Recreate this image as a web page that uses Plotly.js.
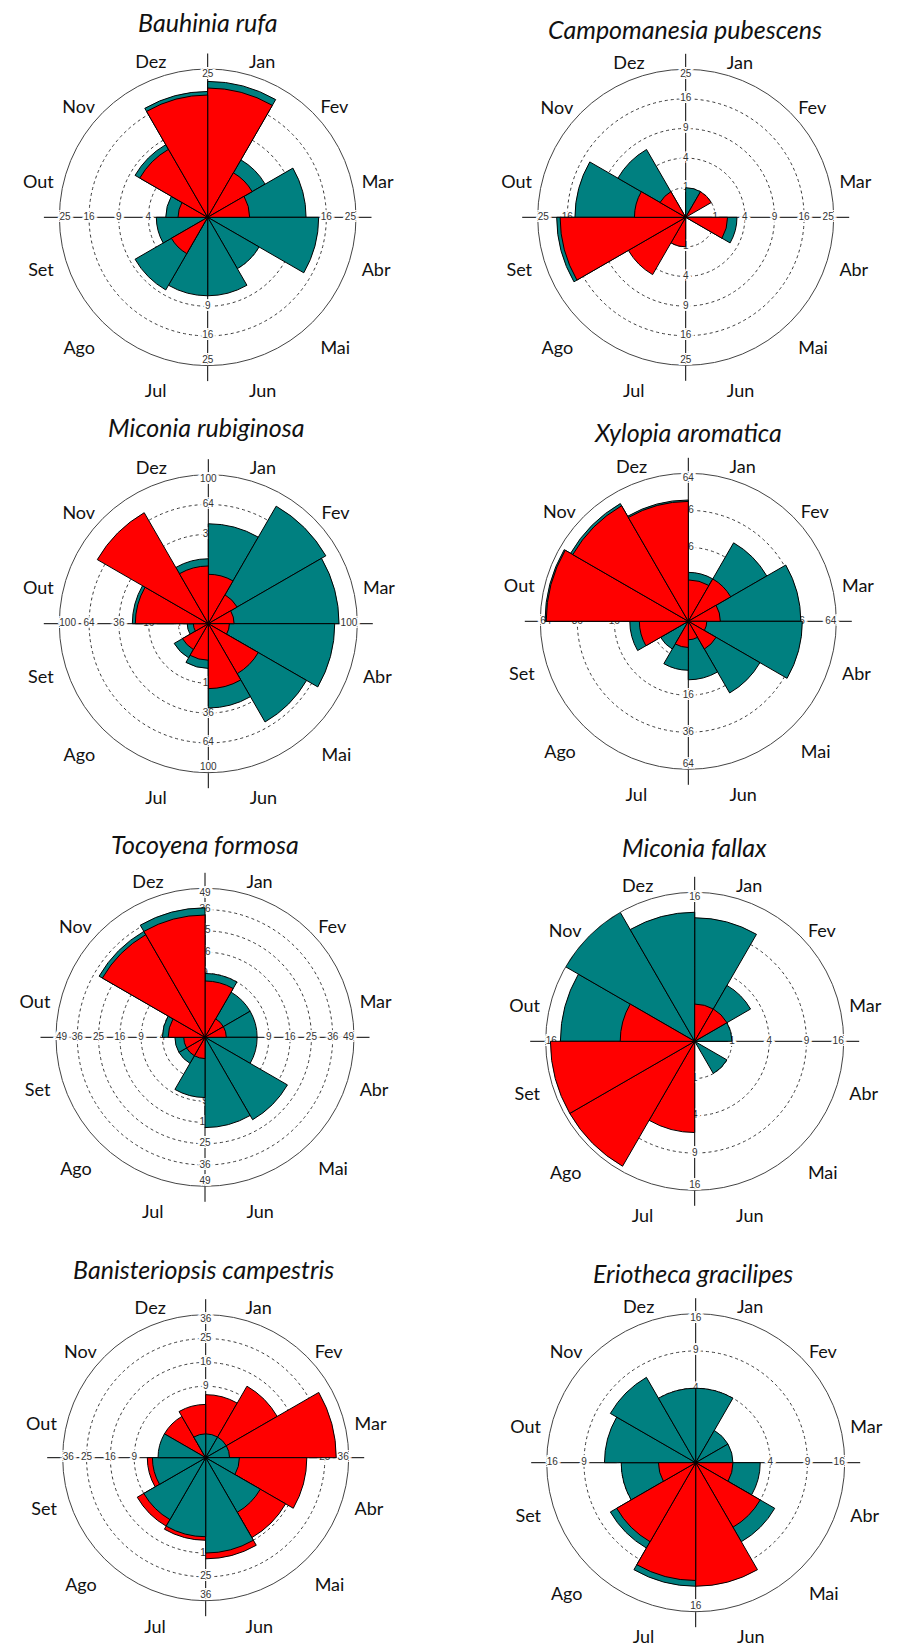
<!DOCTYPE html>
<html><head><meta charset="utf-8">
<script src="https://cdn.plot.ly/plotly-3.0.1.min.js"></script>
<style>html,body{margin:0;padding:0;background:#fff}</style>
</head><body><div id="chart" style="width:899px;height:1648px"></div>
<script>
// ---------- data ----------
const months = ['Jan','Fev','Mar','Abr','Mai','Jun','Jul','Ago','Set','Out','Nov','Dez'];

const speciesNames = ['Bauhinia rufa','Campomanesia pubescens','Miconia rubiginosa','Xylopia aromatica',
  'Tocoyena formosa','Miconia fallax','Banisteriopsis campestris','Eriotheca gracilipes'];

const tealBauhinia   = [21,5,11,14,4,7,7,8,3,2,8,18];
const redBauhinia    = [19,3,2,0,0,0,0,2,0,1,7,17];
const ticksBauhinia  = [4,9,16,25];

const tealCampomanesia  = [1,0,0,3,0,0,0,0,19,14,7,0];
const redCampomanesia   = [0,1,0,2,0,0,1,5,18,3,1,0];
const ticksCampomanesia = [1,4,9,16,25];

const tealRubiginosa  = [45,83,77,72,58,32,9,7,2,26,0,19];
const redRubiginosa   = [11,5,3,2,15,19,6,4,1,24,74,15];
const ticksRubiginosa = [4,16,36,64,100];

const tealXylopia  = [7,24,37,38,20,10,7,3,10,60,54,43];
const redXylopia   = [5,7,3,1,3,1,2,0,7,59,52,42];
const ticksXylopia = [4,16,36,64];

const tealTocoyena  = [9,6,6,6,20,18,8,2,2,4,33,37];
const redTocoyena   = [7,1,1,0,0,0,1,1,1,3,31,33];
const ticksTocoyena = [4,9,16,25,36,49];

const tealFallax  = [11,3,1,0,1,0,0,0,0,13,16,12];
const redFallax   = [1,1,0,0,0,0,6,15,15,4,0,0];
const ticksFallax = [1,4,9,16];

const tealBanisteriopsis  = [1,1,1,2,7,16,11,9,5,4,0,1];
const redBanisteriopsis   = [7,12,30,18,15,18,12,11,6,0,4,5];
const ticksBanisteriopsis = [9,16,25,36];

const tealEriotheca  = [4,1,1,3,6,0,11,7,4,6,7,4];
const redEriotheca   = [0,0,0,1,4,11,10,6,1,0,0,0];
const ticksEriotheca = [4,9,16];

// ---------- panel assembly ----------
const panels = [
  {name:speciesNames[0], teal:tealBauhinia, red:redBauhinia, ticks:ticksBauhinia, tealOnTop:false},
  {name:speciesNames[1], teal:tealCampomanesia, red:redCampomanesia, ticks:ticksCampomanesia, tealOnTop:false},
  {name:speciesNames[2], teal:tealRubiginosa, red:redRubiginosa, ticks:ticksRubiginosa, tealOnTop:false},
  {name:speciesNames[3], teal:tealXylopia, red:redXylopia, ticks:ticksXylopia, tealOnTop:false},
  {name:speciesNames[4], teal:tealTocoyena, red:redTocoyena, ticks:ticksTocoyena, tealOnTop:false},
  {name:speciesNames[5], teal:tealFallax, red:redFallax, ticks:ticksFallax, tealOnTop:false},
  {name:speciesNames[6], teal:tealBanisteriopsis, red:redBanisteriopsis, ticks:ticksBanisteriopsis, tealOnTop:true},
  {name:speciesNames[7], teal:tealEriotheca, red:redEriotheca, ticks:ticksEriotheca, tealOnTop:false}
];

// layout geometry (pixels): centre, radius, title position
const W = 899, H = 1648;
const geom = [
  {cx:207.7, cy:217.3, R:148.3, tx:207.5, ty:22},
  {cx:685.7, cy:217.3, R:148.0, tx:684.5, ty:29},
  {cx:208.3, cy:623.7, R:149.0, tx:205.8, ty:427},
  {cx:688.3, cy:621.3, R:148.0, tx:688.0, ty:432},
  {cx:205.0, cy:1037.3, R:149.0, tx:204.5, ty:844},
  {cx:694.7, cy:1041.3, R:149.0, tx:694.0, ty:847},
  {cx:205.7, cy:1457.7, R:143.0, tx:203.0, ty:1269},
  {cx:695.7, cy:1462.7, R:149.0, tx:693.0, ty:1273}
];
const LABEL_SHIFT = 7;     // month labels sit a little lower than the rose centre
const TEAL = '#008080', RED = '#ff0000';
const haloShadow = '1px 0 0 #fff, -1px 0 0 #fff, 0 1px 0 #fff, 0 -1px 0 #fff, 2px 0 0 #fff, -2px 0 0 #fff, 0 2px 0 #fff, 0 -2px 0 #fff, 2px 2px 0 #fff, -2px -2px 0 #fff, 2px -2px 0 #fff, -2px 2px 0 #fff, 3px 0 0 #fff, -3px 0 0 #fff';

const data = [];
const layout = {
  width: W, height: H, autosize: false,
  margin: {l:0, r:0, t:0, b:0},
  paper_bgcolor: '#ffffff',
  showlegend: false,
  annotations: []
};

panels.forEach((p, k) => {
  const g = geom[k];
  const idA = k === 0 ? 'polar' : 'polar' + (3*k + 1);
  const idB = 'polar' + (3*k + 2);
  const idC = 'polar' + (3*k + 3);
  const rmax = Math.sqrt(p.ticks[p.ticks.length - 1]);
  const dom = (cy) => ({
    x: [(g.cx - g.R) / W, (g.cx + g.R) / W],
    y: [(H - cy - g.R) / H, (H - cy + g.R) / H]
  });

  // A: grid, crosshair, outer circle, radial tick labels
  layout[idA] = {
    domain: dom(g.cy), bgcolor: 'rgba(0,0,0,0)',
    radialaxis: {range:[0, rmax], tickmode:'array', tickvals:p.ticks.slice(0, -1).map(Math.sqrt),
      showticklabels:false, ticks:'', showline:false, showgrid:true,
      gridcolor:'#3a3a3a', gridwidth:1, griddash:'dot'},
    angularaxis: {type:'linear', thetaunit:'degrees', rotation:90, direction:'clockwise',
      tickmode:'array', tickvals:[0, 90, 180, 270], showticklabels:false,
      ticks:'outside', ticklen:15, tickcolor:'#000', tickwidth:1,
      showgrid:true, gridcolor:'#000', gridwidth:1,
      showline:true, linecolor:'#444', linewidth:1, layer:'below traces'}
  };
  const rr = [], tt = [], txt = [], tp = [];
  const outerPos = ['bottom center', 'middle left', 'top center', 'middle right'];
  p.ticks.forEach((v, i) => {
    const outer = i === p.ticks.length - 1;
    [0, 90, 180, 270].forEach((th, j) => {
      rr.push(Math.sqrt(v)); tt.push(th); txt.push(String(v));
      tp.push(outer ? outerPos[j] : 'middle center');
    });
  });
  data.push({type:'scatterpolar', subplot:idA, r:rr, theta:tt, text:txt, mode:'text',
    textposition:tp, cliponaxis:false, hoverinfo:'skip',
    textfont:{family:'Liberation Sans, Arial, sans-serif', size:10, color:'#333', shadow:haloShadow}});

  // B: the rose bars
  layout[idB] = {
    domain: dom(g.cy), bgcolor: 'rgba(0,0,0,0)', barmode:'overlay', bargap:0,
    radialaxis: {range:[0, rmax], visible:false},
    angularaxis: {type:'category', categoryorder:'array', categoryarray:months,
      rotation:75, direction:'clockwise', visible:false}
  };
  const tealTrace = {type:'barpolar', subplot:idB, name:'teal', theta:months, r:p.teal.map(Math.sqrt),
    marker:{color:TEAL, line:{color:'#000', width:1}}, hoverinfo:'skip'};
  const redTrace = {type:'barpolar', subplot:idB, name:'red', theta:months, r:p.red.map(Math.sqrt),
    marker:{color:RED, line:{color:'#000', width:1}}, hoverinfo:'skip'};
  if (p.tealOnTop) { data.push(redTrace, tealTrace); } else { data.push(tealTrace, redTrace); }

  // C: month labels (angular tick labels)
  layout[idC] = {
    domain: dom(g.cy + LABEL_SHIFT), bgcolor: 'rgba(0,0,0,0)',
    radialaxis: {range:[0, 1], visible:false},
    angularaxis: {type:'category', categoryorder:'array', categoryarray:months,
      rotation:75, direction:'clockwise', showgrid:false, showline:false,
      ticks:'outside', ticklen:7, tickcolor:'rgba(0,0,0,0)',
      tickfont:{family:'Lato, sans-serif', size:18, color:'#111'}}
  };
  data.push({type:'scatterpolar', subplot:idC, theta:months, r:months.map(() => 0),
    mode:'markers', marker:{size:1, color:'rgba(0,0,0,0)'}, hoverinfo:'skip'});

  // title
  layout.annotations.push({xref:'paper', yref:'paper', x:g.tx / W, y:1 - g.ty / H,
    xanchor:'center', yanchor:'middle', showarrow:false,
    text:'<i>' + p.name + '</i>', font:{family:'Lato, sans-serif', size:25, color:'#111'}});
});

Plotly.newPlot('chart', data, layout, {staticPlot:true, displayModeBar:false});
</script>
</body></html>
